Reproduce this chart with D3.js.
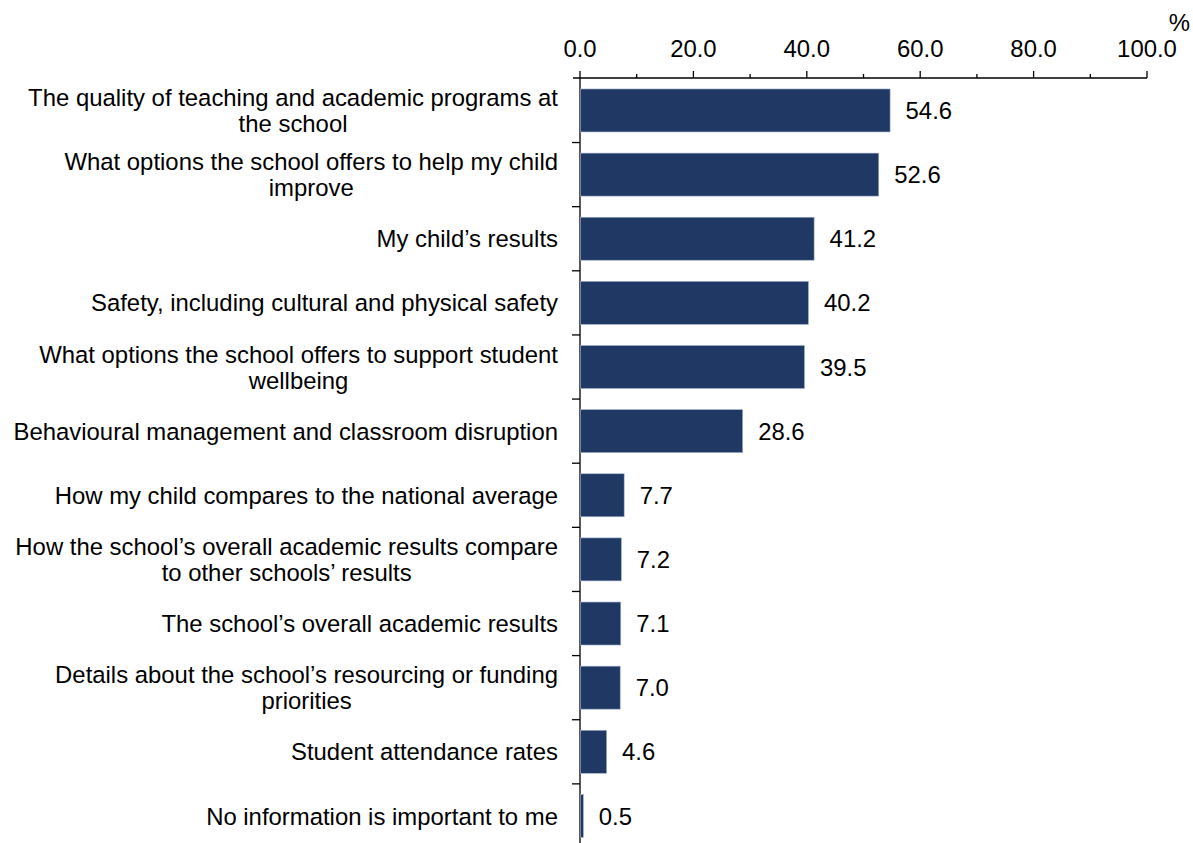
<!DOCTYPE html>
<html>
<head>
<meta charset="utf-8">
<script src="https://cdn.jsdelivr.net/npm/d3@7"></script>
<style>
  html, body { margin: 0; padding: 0; background: #fff; }
  svg { display: block; font-family: "Liberation Sans", Arial, Helvetica, sans-serif; }
</style>
</head>
<body>
<svg id="chart" width="1193" height="843"></svg>
<script>
// Information parents consider important (% of respondents)
const categories = [
  "The quality of teaching and academic programs at the school",
  "What options the school offers to help my child improve",
  "My child\u2019s results",
  "Safety, including cultural and physical safety",
  "What options the school offers to support student wellbeing",
  "Behavioural management and classroom disruption",
  "How my child compares to the national average",
  "How the school\u2019s overall academic results compare to other schools\u2019 results",
  "The school\u2019s overall academic results",
  "Details about the school\u2019s resourcing or funding priorities",
  "Student attendance rates",
  "No information is important to me"
];
const values = [54.6, 52.6, 41.2, 40.2, 39.5, 28.6, 7.7, 7.2, 7.1, 7.0, 4.6, 0.5];
const xTicks = [0, 20, 40, 60, 80, 100];
const xMinorTicks = [10, 30, 50, 70, 90];
const unitLabel = "%";

const svg = d3.select("#chart");
const fontSize = 23.9;
const barColor = "#1f3864";

const x = d3.scaleLinear().domain([0, 100]).range([580, 1147]);
const y = d3.scaleBand()
  .domain(categories)
  .range([78.4, 848])
  .paddingInner(0.33)
  .paddingOuter(0.165);

const axisY = 78;

// Top value axis
const gx = svg.append("g").attr("transform", `translate(0,${axisY})`);
gx.append("line")
  .attr("x1", 573).attr("x2", x(100))
  .attr("stroke", "#000").attr("stroke-width", 1.3);
gx.selectAll("line.major").data(xTicks).join("line")
  .attr("class", "major")
  .attr("x1", d => x(d)).attr("x2", d => x(d))
  .attr("y1", 0).attr("y2", -7)
  .attr("stroke", "#000").attr("stroke-width", 1.3);
gx.selectAll("line.minor").data(xMinorTicks).join("line")
  .attr("class", "minor")
  .attr("x1", d => x(d)).attr("x2", d => x(d))
  .attr("y1", 0).attr("y2", -4)
  .attr("stroke", "#000").attr("stroke-width", 1.3);
gx.selectAll("text").data(xTicks).join("text")
  .attr("x", d => x(d))
  .attr("y", -21)
  .attr("text-anchor", "middle")
  .attr("font-size", fontSize)
  .attr("fill", "#000")
  .text(d => d3.format(".1f")(d));

svg.append("text")
  .attr("x", 1190).attr("y", 31)
  .attr("text-anchor", "end")
  .attr("font-size", fontSize)
  .attr("fill", "#000")
  .text(unitLabel);

// Category axis
const step = y.step();
svg.append("line")
  .attr("x1", x(0)).attr("x2", x(0))
  .attr("y1", axisY).attr("y2", 850)
  .attr("stroke", "#000").attr("stroke-width", 1.3);
svg.selectAll("line.cat-tick").data(categories.slice(0, -1)).join("line")
  .attr("class", "cat-tick")
  .attr("x1", x(0) - 8).attr("x2", x(0))
  .attr("y1", d => y(d) + y.bandwidth() / 2 + step / 2)
  .attr("y2", d => y(d) + y.bandwidth() / 2 + step / 2)
  .attr("stroke", "#000").attr("stroke-width", 1.3);

// Bars
svg.append("g").selectAll("rect").data(values).join("rect")
  .attr("x", x(0) + 0.5)
  .attr("y", (d, i) => y(categories[i]))
  .attr("width", d => x(d) - x(0))
  .attr("height", y.bandwidth())
  .attr("fill", barColor)
  .attr("stroke", "#9fb0cc")
  .attr("stroke-width", 0.6);

// Value labels
svg.append("g").selectAll("text").data(values).join("text")
  .attr("x", d => x(d) + 16)
  .attr("y", (d, i) => y(categories[i]) + y.bandwidth() / 2)
  .attr("dy", "0.36em")
  .attr("font-size", fontSize)
  .attr("fill", "#000")
  .text(d => d3.format(".1f")(d));

// Category labels, wrapped to fit the left margin
const labelWidth = 550;
const lineHeight = 26;
const labels = svg.append("g").selectAll("text").data(categories).join("text")
  .attr("text-anchor", "middle")
  .attr("font-size", fontSize)
  .attr("fill", "#000");

labels.each(function(d) {
  const t = d3.select(this);
  const words = d.split(" ");
  const lines = [];
  let line = [];
  const probe = t.append("tspan");
  words.forEach(w => {
    const trial = line.concat([w]).join(" ");
    probe.text(trial);
    if (probe.node().getComputedTextLength() > labelWidth && line.length) {
      lines.push(line.join(" "));
      line = [w];
    } else {
      line.push(w);
    }
  });
  lines.push(line.join(" "));
  probe.remove();

  // widest line is right-aligned to the axis; other lines centred on it
  const widths = lines.map(l => {
    const s = t.append("tspan").text(l);
    const w = s.node().getComputedTextLength();
    s.remove();
    return w;
  });
  const maxW = d3.max(widths);
  const rightEdge = 558;
  const cx = rightEdge - maxW / 2;
  const cy = y(d) + y.bandwidth() / 2;
  const startY = cy - (lines.length - 1) * lineHeight / 2;
  lines.forEach((l, i) => {
    t.append("tspan")
      .attr("x", cx)
      .attr("y", startY + i * lineHeight)
      .attr("dy", "0.36em")
      .text(l);
  });
});
</script>
</body>
</html>
